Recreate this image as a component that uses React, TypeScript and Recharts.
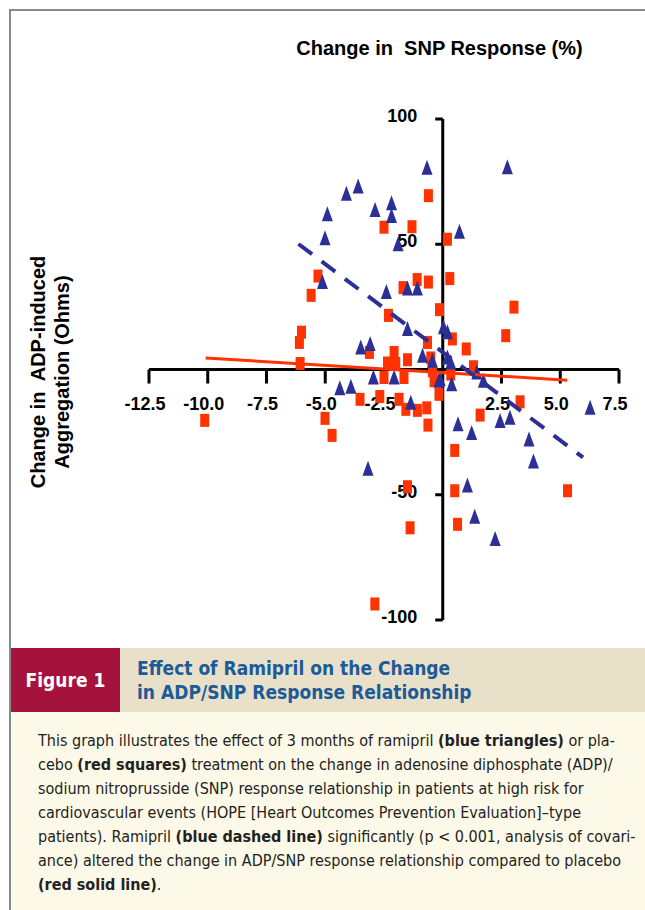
import React from 'react';
import { ScatterChart, Scatter, XAxis, YAxis, ReferenceLine } from 'recharts';

// ramipril (blue triangles): [SNP change, ADP change]
const ramiprilPoints: number[][] = [
  [-3.6, 73.1], [-4.1, 70.2], [-4.91, 62.0], [-2.88, 63.7], [-5.01, 52.4], [-5.12, 34.9],
  [-0.67, 80.5], [2.75, 80.7], [-2.18, 66.4], [-2.18, 61.3], [-1.9, 50.0], [0.71, 55.0],
  [-2.4, 30.9], [-1.5, 32.3], [-1.08, 32.3], [-1.5, 16.2], [0.03, 16.9], [0.2, 14.9],
  [-3.49, 8.8], [-3.09, 10.2], [-0.86, 5.5], [-0.44, 3.5], [0.2, 4.8], [0.34, 2.8],
  [-2.95, -3.2], [-2.07, -3.2], [-0.11, -3.9], [0.38, -5.9], [-4.38, -7.5], [-3.91, -6.9],
  [-1.36, -13.3], [1.45, -1.2], [1.73, -4.5], [-0.16, -4.5], [0.65, -21.9], [1.23, -25.3],
  [2.44, -20.6], [2.86, -19.3], [3.67, -27.9], [3.86, -36.7], [6.27, -15.3], [1.05, -46.3],
  [1.36, -58.8], [2.23, -67.7], [-3.18, -39.6],
];

// placebo (red squares)
const placeboPoints: number[][] = [
  [-5.31, 37.3], [-5.6, 29.6], [-0.61, 69.4], [-2.5, 56.8], [-1.31, 57.0], [0.2, 52.0],
  [-1.69, 32.7], [-1.09, 35.9], [-0.61, 34.9], [0.3, 36.3], [-6.01, 14.9], [-6.1, 10.8],
  [-6.07, 2.4], [-3.12, 6.8], [-3.52, -11.9], [-2.68, -10.8], [-10.13, -20.3], [-5.01, -19.5],
  [-4.71, -26.3], [-2.31, 21.6], [-0.14, 23.9], [0.41, 12.2], [-0.65, 10.8], [-2.07, 6.8],
  [-1.5, 3.9], [-2.35, 2.6], [-2.0, 2.4], [-1.65, -3.2], [-0.68, -15.3], [3.03, 24.9],
  [2.68, 13.5], [1.0, 8.2], [-0.51, 4.6], [1.31, 1.1], [-0.44, -0.5], [-0.37, -4.5],
  [0.34, -1.8], [-0.16, -9.9], [-2.5, -3.2], [-1.86, -11.9], [-1.57, -15.9], [-1.08, -16.3],
  [-0.63, -22.2], [3.29, -12.9], [1.59, -18.2], [0.51, -32.3], [5.31, -48.4], [0.51, -48.4],
  [0.63, -61.8], [-1.39, -63.2], [-1.5, -46.8], [-2.89, -93.6],
];

// regression lines (end points)
const ramiprilFit: number[][] = [[-6.14, 50.1], [5.97, -35.1]];
const placeboFit: number[][] = [[-10.09, 4.6], [5.3, -4.3]];

const xTicks = [-12.5, -10.0, -7.5, -5.0, -2.5, 2.5, 5.0, 7.5];
const yTicks = [100, 50, -50, -100];

const BLUE = '#2b2f96';
const RED = '#ff3300';
const AXIS_FONT = '"Liberation Sans", Arial, sans-serif';
const CAPTION_FONT = '"DejaVu Sans Condensed", "Liberation Sans Narrow", sans-serif';

const toXY = (pts: number[][]) => pts.map(([x, y]) => ({ x, y }));

const Triangle = (props: any) => {
  const { cx, cy } = props;
  return <path d={`M${cx},${cy - 8} L${cx + 5.5},${cy + 7} L${cx - 5.5},${cy + 7} Z`} fill={BLUE} />;
};

const Square = (props: any) => {
  const { cx, cy } = props;
  return <rect x={cx - 4.5} y={cy - 6.5} width={9} height={13} fill={RED} />;
};

const XTickLabel = (props: any) => {
  const { viewBox, text } = props;
  return (
    <text x={viewBox.x - 4} y={viewBox.y + 40} textAnchor="middle" fontFamily={AXIS_FONT}
      fontWeight="bold" fontSize={18} fill="#000">{text}</text>
  );
};

const YTickLabel = (props: any) => {
  const { viewBox, text } = props;
  return (
    <text x={viewBox.x - 18} y={viewBox.y + 3} textAnchor="end" fontFamily={AXIS_FONT}
      fontWeight="bold" fontSize={18} fill="#000">{text}</text>
  );
};

const fmt = (v: number) => (Number.isInteger(v) && Math.abs(v) >= 50 ? String(v) : v.toFixed(1));

export default function App() {
  return (
    <div style={{ position: 'absolute', left: 0, top: 0, width: 645, height: 910, background: '#fff', overflow: 'hidden' }}>
      {/* frame */}
      <div style={{ position: 'absolute', left: 9, top: 9, width: 640, height: 2, background: '#8a8a8a' }} />
      <div style={{ position: 'absolute', left: 9, top: 9, width: 2, height: 905, background: '#8a8a8a' }} />

      <div style={{
        position: 'absolute', left: 0, width: 645, top: 37, textAlign: 'center', paddingLeft: 234,
        boxSizing: 'border-box', fontFamily: AXIS_FONT, fontWeight: 'bold', fontSize: 20, whiteSpace: 'pre',
      }}>
        {'Change in  SNP Response (%)'}
      </div>

      <div style={{
        position: 'absolute', left: 50, top: 372, transform: 'translate(-50%, -50%) rotate(-90deg)',
        fontFamily: AXIS_FONT, fontWeight: 'bold', fontSize: 20, lineHeight: '24px', textAlign: 'center', whiteSpace: 'pre',
      }}>
        {'Change in  ADP-induced\nAggregation (Ohms)'}
      </div>

      <div style={{ position: 'absolute', left: 0, top: 0 }}>
        <ScatterChart width={645} height={640} margin={{ top: 119, right: 26, bottom: 20, left: 149 }}>
          <XAxis type="number" dataKey="x" domain={[-12.5, 7.5]} hide />
          <YAxis type="number" dataKey="y" domain={[-100, 100]} hide />

          <Scatter data={toXY(placeboPoints)} shape={Square} isAnimationActive={false} />
          <Scatter data={toXY(ramiprilPoints)} shape={Triangle} isAnimationActive={false} />

          <ReferenceLine y={0} stroke="#000" strokeWidth={3} />
          <ReferenceLine x={0} stroke="#000" strokeWidth={3} />
          {xTicks.map((t) => (
            <ReferenceLine key={`xt${t}`} segment={[{ x: t, y: 0 }, { x: t, y: -5.6 }]} stroke="#000" strokeWidth={3}
              label={<XTickLabel text={fmt(t)} />} />
          ))}
          {yTicks.map((t) => (
            <ReferenceLine key={`yt${t}`} segment={[{ x: -0.32, y: t }, { x: 0, y: t }]} stroke="#000" strokeWidth={3}
              label={<YTickLabel text={fmt(t)} />} />
          ))}

          <Scatter data={toXY(placeboFit)} line={{ stroke: RED, strokeWidth: 3 }} shape={() => <g />}
            isAnimationActive={false} />
          <Scatter data={toXY(ramiprilFit)} line={{ stroke: BLUE, strokeWidth: 4, strokeDasharray: '17 12' }}
            shape={() => <g />} isAnimationActive={false} />
        </ScatterChart>
      </div>

      {/* caption */}
      <div style={{ position: 'absolute', left: 11, top: 648, width: 109, height: 64, background: '#a5123c',
        color: '#fff', fontFamily: CAPTION_FONT, fontWeight: 'bold', fontSize: 19, display: 'flex',
        alignItems: 'center', justifyContent: 'center' }}>
        Figure 1
      </div>
      <div style={{ position: 'absolute', left: 120, top: 648, width: 525, height: 64, background: '#e8e0c9',
        color: '#1d5a98', fontFamily: CAPTION_FONT, fontWeight: 'bold', fontSize: 19, lineHeight: '24px',
        boxSizing: 'border-box', padding: '8px 0 0 17px' }}>
        Effect of Ramipril on the Change<br />in ADP/SNP Response Relationship
      </div>
      <div style={{ position: 'absolute', left: 11, top: 712, width: 634, height: 198, background: '#fdf9e8',
        color: '#222', fontFamily: CAPTION_FONT, fontSize: 16, lineHeight: '24px', boxSizing: 'border-box',
        padding: '17px 0 0 27px', whiteSpace: 'pre' }}>
        {'This graph illustrates the effect of 3 months of ramipril '}<b>(blue triangles)</b>{' or pla-\n'}
        {'cebo '}<b>(red squares)</b>{' treatment on the change in adenosine diphosphate (ADP)/\n'}
        {'sodium nitroprusside (SNP) response relationship in patients at high risk for\n'}
        {'cardiovascular events (HOPE [Heart Outcomes Prevention Evaluation]\u2013type\n'}
        {'patients). Ramipril '}<b>(blue dashed line)</b>{' significantly (p < 0.001, analysis of covari-\n'}
        {'ance) altered the change in ADP/SNP response relationship compared to placebo\n'}
        <b>(red solid line)</b>{'.'}
      </div>
    </div>
  );
}
